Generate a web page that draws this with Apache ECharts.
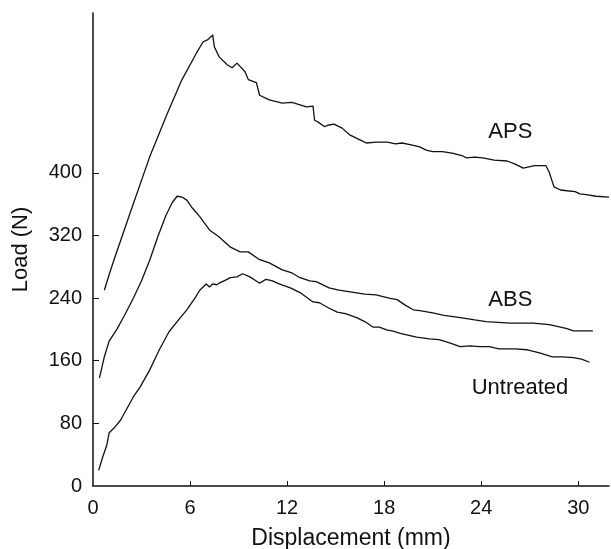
<!DOCTYPE html>
<html>
<head>
<meta charset="utf-8">
<script src="https://cdn.jsdelivr.net/npm/echarts@6/dist/echarts.min.js"></script>
<style>
  html, body { margin: 0; padding: 0; background: #fff; }
  #main { width: 611px; height: 549px; }
</style>
</head>
<body>
<div id="main"></div>
<script>
// displacement (mm), load (N)
var apsData = [
    [0.7, 250], [1.0, 270], [1.3, 289], [2.3, 349], [3.5, 420], [4.6, 476], [5.5, 519],
    [6.4, 553], [6.8, 567], [7.1, 570], [7.4, 576], [7.5, 561], [7.8, 548], [8.3, 538],
    [8.6, 534], [8.9, 540], [9.4, 529], [9.6, 519], [10.1, 515], [10.3, 499], [10.9, 493],
    [11.7, 489], [12.3, 490], [13.2, 484], [13.6, 485], [13.7, 467], [13.9, 465], [14.3, 459],
    [14.6, 461], [14.9, 462], [15.4, 457], [15.9, 448], [16.5, 442], [16.9, 438], [17.5, 439],
    [18.2, 439], [18.7, 437], [19.1, 438], [19.6, 436], [20.2, 433], [20.6, 429], [21.0, 427],
    [21.6, 427], [22.2, 425], [22.8, 422], [23.1, 419], [23.6, 420], [24.1, 419], [24.8, 416],
    [25.6, 415], [26.1, 411], [26.6, 406], [27.3, 409], [28.0, 409], [28.2, 401], [28.5, 382],
    [28.9, 378], [29.3, 377], [29.8, 376], [30.1, 373], [30.5, 372], [31.1, 370], [31.9, 369]
];
var absData = [
    [0.4, 138], [0.7, 165], [1.0, 185], [1.5, 201], [2.0, 220], [2.5, 240], [3.0, 262],
    [3.5, 288], [4.0, 318], [4.5, 345], [4.9, 362], [5.2, 370], [5.5, 369], [5.8, 365],
    [6.1, 356], [6.6, 344], [7.2, 327], [7.8, 318], [8.5, 305], [9.1, 299], [9.6, 299],
    [10.3, 289], [10.9, 285], [11.7, 276], [12.3, 272], [12.8, 266], [13.4, 262], [13.8, 261],
    [14.6, 253], [15.2, 250], [15.9, 248], [16.8, 245], [17.5, 244], [18.3, 240], [18.8, 238],
    [19.3, 231], [19.8, 225], [20.2, 224], [21.0, 221], [21.7, 218], [22.7, 215], [23.6, 212],
    [24.3, 210], [25.8, 208], [27.2, 208], [28.2, 206], [28.9, 203], [29.3, 201], [29.7, 198],
    [30.3, 198], [30.9, 198]
];
var untreatedData = [
    [0.35, 20], [0.6, 37], [0.85, 52], [1.0, 68], [1.3, 74], [1.7, 84], [2.5, 114], [2.9, 126],
    [3.5, 148], [4.1, 174], [4.7, 197], [5.4, 215], [5.8, 225], [6.3, 240], [6.6, 250],
    [7.0, 258], [7.2, 254], [7.4, 258], [7.65, 257], [7.8, 259], [8.1, 262], [8.5, 266],
    [8.9, 267], [9.25, 271], [9.7, 267], [10.0, 263], [10.3, 259], [10.7, 264], [11.1, 262],
    [11.5, 258], [12.2, 253], [12.8, 247], [13.2, 241], [13.6, 235], [14.0, 234], [14.6, 227],
    [15.1, 222], [15.6, 220], [16.3, 215], [16.8, 210], [17.3, 203], [17.7, 203], [18.2, 199],
    [18.5, 198], [19.0, 195], [19.6, 192], [20.0, 190], [20.8, 188], [21.4, 187], [22.0, 183],
    [22.7, 178], [23.3, 179], [23.9, 178], [24.5, 178], [25.1, 175], [26.1, 175], [26.8, 174],
    [27.6, 170], [28.4, 165], [29.0, 165], [29.7, 164], [30.2, 162], [30.7, 158]
];
var xTicks = [0, 6, 12, 18, 24, 30];
var yTicks = [0, 80, 160, 240, 320, 400];
// where each curve's name sits (mm, N)
var seriesNames = ['APS', 'ABS', 'Untreated'];
var labelAt = [[25.8, 452], [25.8, 238], [26.4, 125]];

var ink = '#111';
var font = 'Liberation Sans';
var chart = echarts.init(document.getElementById('main'), null, {renderer: 'canvas'});

var lines = [apsData, absData, untreatedData];
var series = [];
for (var i = 0; i < lines.length; i++) {
    series.push({
        name: seriesNames[i],
        type: 'line',
        data: lines[i],
        symbol: 'none',
        lineStyle: {color: ink, width: 1.3},
        markPoint: {
            symbol: 'circle',
            symbolSize: 0,
            silent: true,
            label: {
                show: true,
                position: 'inside',
                formatter: seriesNames[i],
                color: ink,
                fontFamily: font,
                fontSize: 22
            },
            data: [{coord: labelAt[i]}]
        }
    });
}

var option = {
    animation: false,
    backgroundColor: '#fff',
    grid: {left: 93, right: 2, top: 13, bottom: 63, containLabel: false, outerBoundsMode: 'none'},
    xAxis: {
        type: 'value',
        min: 0,
        max: 31.9,
        name: 'Displacement (mm)',
        nameLocation: 'middle',
        nameGap: 41,
        nameTextStyle: {color: ink, fontFamily: font, fontSize: 23},
        splitLine: {show: false},
        axisLine: {show: true, lineStyle: {color: ink, width: 1.5}},
        axisTick: {show: true, inside: true, length: 5, customValues: xTicks.slice(1),
            lineStyle: {color: ink, width: 1}},
        axisLabel: {customValues: xTicks, margin: 12, color: ink, fontFamily: font, fontSize: 20}
    },
    yAxis: {
        type: 'value',
        min: 0,
        max: 604,
        name: 'Load (N)',
        nameLocation: 'middle',
        nameGap: 61,
        nameTextStyle: {color: ink, fontFamily: font, fontSize: 22},
        splitLine: {show: false},
        axisLine: {show: true, lineStyle: {color: ink, width: 1.5}},
        axisTick: {show: true, inside: true, length: 6, customValues: yTicks.slice(1),
            lineStyle: {color: ink, width: 1}},
        axisLabel: {customValues: yTicks, margin: 11, color: ink, fontFamily: font, fontSize: 20}
    },
    series: series
};
chart.setOption(option);
</script>
</body>
</html>
